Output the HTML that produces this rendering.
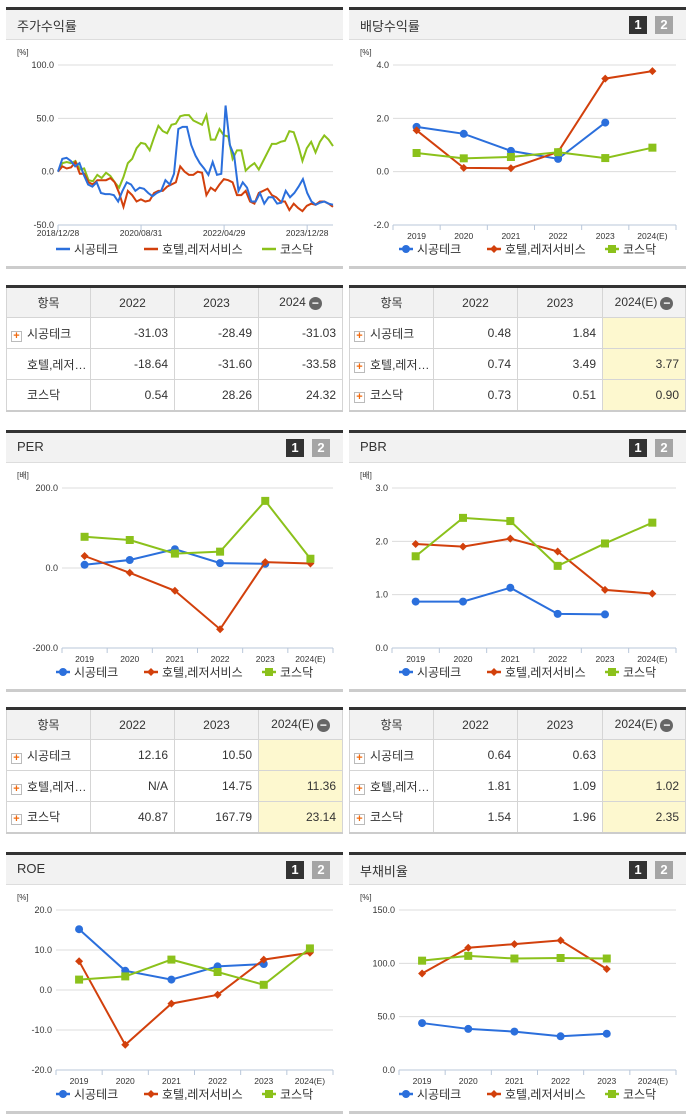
<!DOCTYPE html>
<html><head><meta charset="utf-8">
<style>
*{box-sizing:border-box;margin:0;padding:0}
body{width:691px;height:1115px;background:#fff;position:relative;overflow:hidden;font-family:"Liberation Sans","Noto Sans CJK KR",sans-serif;color:#333}
.panel{position:absolute;width:337px;height:260px;border-top:3px solid #333}
.hdr{position:absolute;left:0;top:0;width:100%;height:30px;background:#f2f2f2;border-bottom:1px solid #ddd}
.hdr .t{position:absolute;left:11px;top:6px;font-size:13px;color:#333}
.b1,.b2{position:absolute;top:6px;width:18px;height:18px;font-size:13px;font-weight:bold;color:#fff;text-align:center;line-height:18px}
.b1{background:#333;right:39px}.b2{background:#a5a5a5;right:13px}
.panel .foot{position:absolute;left:0;bottom:-2px;width:100%;height:3px;background:#ccc}
svg{position:absolute;left:0;top:0}
table{position:absolute;width:337px;border-collapse:collapse;font-size:12px;border-top:3px solid #333;border-bottom:2px solid #ccc;table-layout:fixed}
td,th{border:1px solid #d5d5d5;height:31px;font-weight:normal;white-space:nowrap;overflow:hidden}
th{background:#f2f2f2;text-align:center}
td{text-align:right;padding-right:6px}
td.n{text-align:left;padding-left:4px}
td.y{background:#fdf8cf}
.pl{display:inline-block;width:11px;height:11px;border:1px solid #bbb;background:#fff;color:#f06a0f;font-size:11px;line-height:9px;text-align:center;font-weight:bold;margin-right:5px;vertical-align:-1px}
.mn{display:inline-block;width:13px;height:13px;border-radius:50%;background:#666;color:#fff;font-size:12px;line-height:12px;text-align:center;font-weight:bold;vertical-align:-1px;margin-left:3px}
</style></head><body>

<div class="panel" style="left:6px;top:7px"><div class="hdr"><span class="t">주가수익률</span></div><svg id="c0" width="337" height="260"></svg><div class="foot"></div></div>
<div class="panel" style="left:349px;top:7px"><div class="hdr"><span class="t">배당수익률</span><span class="b1">1</span><span class="b2">2</span></div><svg id="c1" width="337" height="260"></svg><div class="foot"></div></div>

<table style="left:6px;top:285px"><colgroup><col style="width:84px"><col style="width:84px"><col style="width:84px"><col></colgroup>
<tr><th>항목</th><th>2022</th><th>2023</th><th>2024<span class="mn">−</span></th></tr>
<tr><td class="n"><span class="pl">+</span>시공테크</td><td>-31.03</td><td>-28.49</td><td>-31.03</td></tr>
<tr><td class="n" style="padding-left:20px">호텔,레저…</td><td>-18.64</td><td>-31.60</td><td>-33.58</td></tr>
<tr><td class="n" style="padding-left:20px">코스닥</td><td>0.54</td><td>28.26</td><td>24.32</td></tr></table>

<table style="left:349px;top:285px"><colgroup><col style="width:84px"><col style="width:84px"><col style="width:85px"><col></colgroup>
<tr><th>항목</th><th>2022</th><th>2023</th><th>2024(E)<span class="mn">−</span></th></tr>
<tr><td class="n"><span class="pl">+</span>시공테크</td><td>0.48</td><td>1.84</td><td class="y"></td></tr>
<tr><td class="n"><span class="pl">+</span>호텔,레저…</td><td>0.74</td><td>3.49</td><td class="y">3.77</td></tr>
<tr><td class="n"><span class="pl">+</span>코스닥</td><td>0.73</td><td>0.51</td><td class="y">0.90</td></tr></table>

<div class="panel" style="left:6px;top:430px"><div class="hdr"><span class="t">PER</span><span class="b1">1</span><span class="b2">2</span></div><svg id="c2" width="337" height="260"></svg><div class="foot"></div></div>
<div class="panel" style="left:349px;top:430px"><div class="hdr"><span class="t">PBR</span><span class="b1">1</span><span class="b2">2</span></div><svg id="c3" width="337" height="260"></svg><div class="foot"></div></div>

<table style="left:6px;top:707px"><colgroup><col style="width:84px"><col style="width:84px"><col style="width:84px"><col></colgroup>
<tr><th>항목</th><th>2022</th><th>2023</th><th>2024(E)<span class="mn">−</span></th></tr>
<tr><td class="n"><span class="pl">+</span>시공테크</td><td>12.16</td><td>10.50</td><td class="y"></td></tr>
<tr><td class="n"><span class="pl">+</span>호텔,레저…</td><td>N/A</td><td>14.75</td><td class="y">11.36</td></tr>
<tr><td class="n"><span class="pl">+</span>코스닥</td><td>40.87</td><td>167.79</td><td class="y">23.14</td></tr></table>

<table style="left:349px;top:707px"><colgroup><col style="width:84px"><col style="width:84px"><col style="width:85px"><col></colgroup>
<tr><th>항목</th><th>2022</th><th>2023</th><th>2024(E)<span class="mn">−</span></th></tr>
<tr><td class="n"><span class="pl">+</span>시공테크</td><td>0.64</td><td>0.63</td><td class="y"></td></tr>
<tr><td class="n"><span class="pl">+</span>호텔,레저…</td><td>1.81</td><td>1.09</td><td class="y">1.02</td></tr>
<tr><td class="n"><span class="pl">+</span>코스닥</td><td>1.54</td><td>1.96</td><td class="y">2.35</td></tr></table>

<div class="panel" style="left:6px;top:852px"><div class="hdr"><span class="t">ROE</span><span class="b1">1</span><span class="b2">2</span></div><svg id="c4" width="337" height="260"></svg><div class="foot"></div></div>
<div class="panel" style="left:349px;top:852px"><div class="hdr"><span class="t">부채비율</span><span class="b1">1</span><span class="b2">2</span></div><svg id="c5" width="337" height="260"></svg><div class="foot"></div></div>

<script>
const seriesNames=["시공테크","호텔,레저서비스","코스닥"];
const years=["2019","2020","2021","2022","2023","2024(E)"];
const stockDates=["2018/12/28","2020/08/31","2022/04/29","2023/12/28"];
const stockTicks=[100,50,0,-50];
const stockA=[0,12,13,10,5,8,-3,-12,-14,-10,-20,-21,-21,-22,-28,-18,-10,-12,-18,-15,-16,-20,-23,-20,-18,-8,-12,-2,40,42,42,25,15,8,3,-3,9,-3,-2,62,25,15,-18,-10,-15,-28,-28,-20,-30,-24,-24,-30,-29,-18,-24,-20,-14,-7,-20,-28,-31,-29,-28,-30,-31];
const stockB=[0,5,3,4,9,-2,-2,-10,-12,-8,-8,-8,-6,-10,-20,-33,-18,-22,-28,-26,-28,-27,-20,-18,-18,-14,-12,-10,5,0,-3,-3,0,-1,-22,-15,-18,-12,-7,-8,-10,-22,-22,-18,-28,-30,-20,-18,-16,-22,-24,-28,-28,-36,-30,-34,-37,-32,-30,-31,-28,-28,-30,-33];
const stockC=[0,8,9,8,10,2,3,-8,-9,-3,-6,-1,-4,-10,-15,-5,8,12,22,27,26,20,32,43,38,36,44,45,52,53,53,48,46,44,53,30,30,40,34,33,12,20,20,1,5,8,2,10,18,26,26,28,29,38,37,25,10,22,28,18,28,34,30,24];
const divTicks=[4,2,0,-2];
const divA=[1.68,1.42,0.78,0.48,1.84,null];
const divB=[1.55,0.14,0.13,0.74,3.49,3.77];
const divC=[0.70,0.50,0.55,0.73,0.51,0.90];
const perTicks=[200,0,-200];
const perA=[8,20,47,12.16,10.5,null];
const perB=[30,-12,-57,-153,14.75,11.36];
const perC=[78,70,36,40.87,167.79,23.14];
const pbrTicks=[3,2,1,0];
const pbrA=[0.87,0.87,1.13,0.64,0.63,null];
const pbrB=[1.95,1.90,2.05,1.81,1.09,1.02];
const pbrC=[1.72,2.44,2.38,1.54,1.96,2.35];
const roeTicks=[20,10,0,-10,-20];
const roeA=[15.2,4.8,2.6,5.9,6.5,null];
const roeB=[7.2,-13.7,-3.4,-1.2,7.6,9.3];
const roeC=[2.6,3.4,7.6,4.5,1.3,10.4];
const debtTicks=[150,100,50,0];
const debtA=[44,38.5,36,31.6,34,null];
const debtB=[90.5,114.6,118,121.5,94.7,null];
const debtC=[102.5,107,104.5,105,104.5,null];

const COL=["#2b6fdc","#d2400c","#8bc11b"];
const NS="http://www.w3.org/2000/svg";
function mk(svg,tag,at,txt){const e=document.createElementNS(NS,tag);for(const k in at)e.setAttribute(k,at[k]);if(txt!=null)e.textContent=txt;svg.appendChild(e);return e;}
const TOP=55,BOT=215;
function frame(svg,left,right,ticks,unit){
  const mx=Math.max(...ticks),mn=Math.min(...ticks);
  const y=v=>TOP+(mx-v)/(mx-mn)*(BOT-TOP);
  let t=mk(svg,'text',{x:11,y:45,'font-size':8,fill:'#333'},unit);
  
  
  ticks.forEach(v=>{
    if(v!==mn){let g=mk(svg,'line',{x1:left,x2:right,y1:y(v),y2:y(v),stroke:'#dcdcdc'});
      
      }
    let l=mk(svg,'text',{x:left-4,y:y(v)+3,'font-size':9,fill:'#333','text-anchor':'end'},v.toFixed(1));
    
    
  });
  let ax=mk(svg,'line',{x1:left,x2:right,y1:BOT,y2:BOT,stroke:'#b9c7da'});
  
  
  return y;
}
function marker(svg,i,x,y){
  let m;
  if(i===0)m=mk(svg,'circle',{cx:x,cy:y,r:4,fill:COL[0]});
  else if(i===1)m=mk(svg,'path',{d:`M${x} ${y-4}L${x+4} ${y}L${x} ${y+4}L${x-4} ${y}Z`,fill:COL[1]});
  else m=mk(svg,'rect',{x:x-4,y:y-4,width:8,height:8,fill:COL[2]});
  
  
}
function legend(svg,cx,showMarkers){
  const w=[70,100,50];let x=cx-118;
  seriesNames.forEach((n,i)=>{
    let g=mk(svg,'g',{});
    
    
    mk(g,'line',{x1:x,x2:x+14,y1:239,y2:239,stroke:COL[i],'stroke-width':2.5});
    if(showMarkers)marker(g,i,x+7,239);
    mk(g,'text',{x:x+18,y:243.5,'font-size':12,fill:'#333'},n);
    x+=w[i]+18;
  });
}
function catChart(id,left,ticks,unit,data){
  const svg=document.getElementById(id),right=327;
  const y=frame(svg,left,right,ticks,unit);
  const bw=(right-left)/6,xc=i=>left+bw*(i+0.5);
  for(let i=0;i<=6;i++){let tk=mk(svg,'line',{x1:left+bw*i,x2:left+bw*i,y1:BOT,y2:BOT+5,stroke:'#b9c7da'});}
  years.forEach((yr,i)=>{let l=mk(svg,'text',{x:xc(i),y:BOT+14,'font-size':8.5,fill:'#333','text-anchor':'middle'},yr);});
  data.forEach((arr,s)=>{
    const pts=arr.map((v,i)=>v==null?null:[xc(i),y(v)]).filter(p=>p);
    let pl=mk(svg,'polyline',{points:pts.map(p=>p.join(',')).join(' '),fill:'none',stroke:COL[s],'stroke-width':2});
    
    
    pts.forEach(p=>marker(svg,s,p[0],p[1]));
  });
  legend(svg,168,true);
}
// stock chart
(function(){
  const svg=document.getElementById('c0'),left=52,right=327;
  const y=frame(svg,left,right,stockTicks,'[%]');
  const xd=i=>left+(right-left)*i/(stockDates.length-1)*0.906;
  stockDates.forEach((d,i)=>{
    let tk=mk(svg,'line',{x1:xd(i),x2:xd(i),y1:BOT,y2:BOT+5,stroke:'#b9c7da'});
    
    
    let l=mk(svg,'text',{x:xd(i),y:BOT+11,'font-size':8.5,fill:'#333','text-anchor':'middle'},d);
    
    
  });
  [stockC,stockB,stockA].forEach((arr,k)=>{
    const s=2-k;
    const pts=arr.map((v,i)=>[left+(right-left)*i/(arr.length-1),y(v)]);
    let pl=mk(svg,'polyline',{points:pts.map(p=>p.join(',')).join(' '),fill:'none',stroke:COL[s],'stroke-width':2});
    
    
  });
  legend(svg,168,false);
})();
catChart('c1',44,divTicks,'[%]',[divA,divB,divC]);
catChart('c2',56,perTicks,'[배]',[perA,perB,perC]);
catChart('c3',43,pbrTicks,'[배]',[pbrA,pbrB,pbrC]);
catChart('c4',50,roeTicks,'[%]',[roeA,roeB,roeC]);
catChart('c5',50,debtTicks,'[%]',[debtA,debtB,debtC]);
</script>
</body></html>
